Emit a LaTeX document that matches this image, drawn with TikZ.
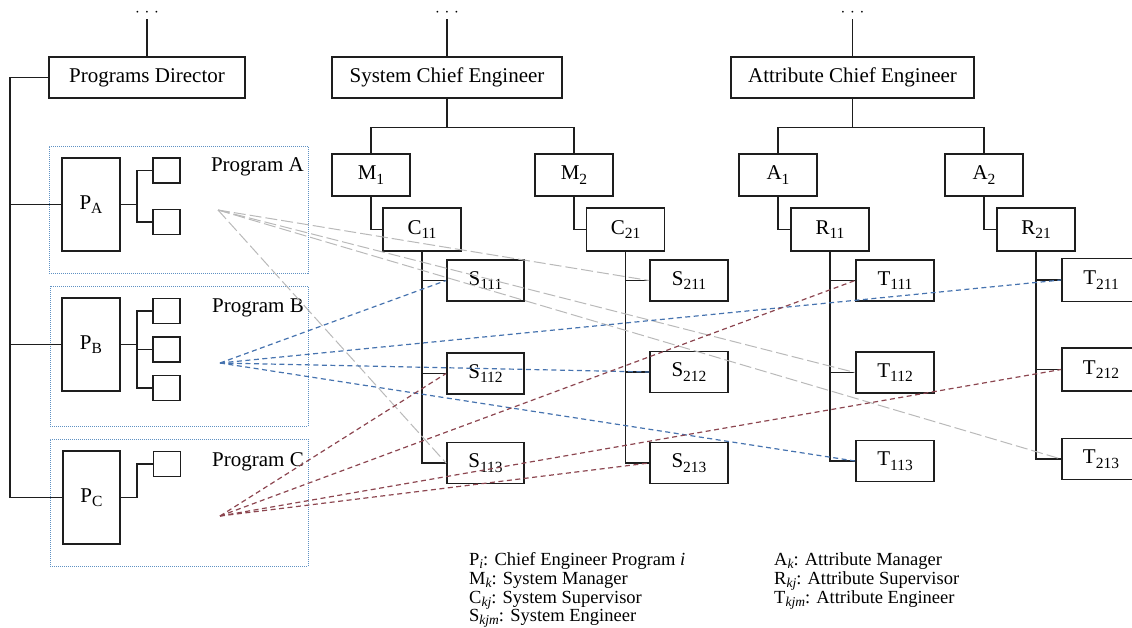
\documentclass[tikz,border=0pt]{standalone}
\usepackage{fontspec}
\setmainfont{Liberation Serif}
\newcommand{\orgfont}{\fontsize{21}{24}\selectfont}
\newcommand{\keyfont}{\fontsize{18.5}{19}\selectfont}
\newcommand{\dotsfont}{\fontsize{19}{19}\selectfont}
% lowered indices for box labels and for the key
\newcommand{\bsub}[1]{\raisebox{-4.5pt}{\fontsize{15.5}{16}\selectfont #1}}
\newcommand{\ksub}[1]{\raisebox{-3pt}{\fontsize{13.5}{14}\selectfont\itshape #1}}
\newcommand{\moreabove}{$\cdot\mkern1mu\cdot\mkern1mu\cdot$}
\definecolor{ink}{RGB}{30,30,30}
\definecolor{frameblue}{RGB}{95,145,195}
\definecolor{fangrey}{RGB}{185,185,185}
\definecolor{fanblue}{RGB}{70,115,175}
\definecolor{fanred}{RGB}{140,70,80}
\begin{document}
\begin{tikzpicture}[x=1pt,y=-1pt,
  wire/.style={draw=ink,line width=1.9pt},
  unit/.style={draw=ink,line width=1.9pt,inner sep=0pt,minimum width=78pt,minimum height=42pt,font=\orgfont},
  head/.style={unit,minimum height=41pt},
  prog/.style={draw=ink,line width=1.9pt,inner sep=0pt,minimum width=58pt,minimum height=93pt,font=\orgfont},
  cell/.style={draw=ink,line width=1.9pt,inner sep=0pt,minimum width=27pt,minimum height=25pt},
  frame/.style={draw=frameblue,line width=1pt,dash pattern=on 1pt off 1pt,inner sep=0pt},
  plabel/.style={anchor=east,inner sep=0pt,font=\orgfont},
  dotsmark/.style={anchor=base,inner sep=0pt,text height=5pt,text depth=0pt,font=\dotsfont},
  keytext/.style={anchor=base west,inner sep=0pt,font=\keyfont},
  linkA/.style={draw=fangrey,line width=1pt,dash pattern=on 12pt off 4pt},
  linkB/.style={draw=fanblue,line width=1.2pt,dash pattern=on 5pt off 3.5pt},
  linkC/.style={draw=fanred,line width=1.2pt,dash pattern=on 5pt off 3.5pt}]
\useasboundingbox (0,0) rectangle (1132,627);

% --- program containers -------------------------------------------------
\node[frame,minimum width=259pt,minimum height=127pt] (frA) at (178.5,209.5) {};
\node[frame,minimum width=258pt,minimum height=140pt] (frB) at (179,356) {};
\node[frame,minimum width=258pt,minimum height=127pt] (frC) at (179,502.5) {};
\node[plabel] (labA) at (304,167) {Program A};
\node[plabel] (labB) at (304,308) {Program B};
\node[plabel] (labC) at (304,462) {Program C};

% --- top-level heads ----------------------------------------------------
\node[head,minimum width=196pt] (PD) at (147,77.5) {Programs Director};
\node[head,minimum width=230pt] (SCE) at (447,77.5) {System Chief Engineer};
\node[head,minimum width=243pt] (ACE) at (852.5,77.5) {Attribute Chief Engineer};
\node[dotsmark] (dPD) at (147,16) {\moreabove};
\node[dotsmark] (dSCE) at (447,16) {\moreabove};
\node[dotsmark] (dACE) at (852.5,16) {\moreabove};
\draw[wire,shorten <=3pt] (dPD.south) -- (PD.north);
\draw[wire,shorten <=3pt] (dSCE.south) -- (SCE.north);
\draw[wire,shorten <=3pt] (dACE.south) -- (ACE.north);

% --- programs -----------------------------------------------------------
\node[prog] (PA) at (91,204.5) {P\bsub{A}};
\node[prog] (PB) at (91,344.5) {P\bsub{B}};
\node[prog,minimum width=57pt] (PC) at (91.5,497.5) {P\bsub{C}};
\node[cell] (PA1) at (166.5,170.5) {};
\node[cell] (PA2) at (166.5,222) {};
\node[cell] (PB1) at (166.5,311) {};
\node[cell] (PB2) at (166.5,349.5) {};
\node[cell] (PB3) at (166.5,388) {};
\node[cell] (PC1) at (167,464) {};

\coordinate (lbus) at (10,0);
\draw[wire] (PD.west) -| (lbus |- PC.west) -- (PC.west);
\draw[wire] (lbus |- PA.west) -- (PA.west);
\draw[wire] (lbus |- PB.west) -- (PB.west);

\draw[wire] (PA.east) -- ++(16,0) coordinate (pab);
\draw[wire] (PA1.west) -| (pab) |- (PA2.west);
\draw[wire] (PB.east) -- ++(16,0) coordinate (pbb);
\draw[wire] (PB1.west) -| (pbb) |- (PB3.west);
\draw[wire] (pbb |- PB2.west) -- (PB2.west);
\draw[wire] (PC.east) -- ++(16,0) coordinate (pcb);
\draw[wire] (pcb) |- (PC1.west);

% --- system branch ------------------------------------------------------
\node[unit] (M1) at (371,175) {M\bsub{1}};
\node[unit] (M2) at (574,175) {M\bsub{2}};
\node[unit,minimum height=43pt] (C11) at (422,229.5) {C\bsub{11}};
\node[unit,minimum height=43pt] (C21) at (625.5,229.5) {C\bsub{21}};
\node[unit,minimum width=77pt,minimum height=41pt] (S111) at (485.5,280.5) {S\bsub{111}};
\node[unit,minimum width=77pt,minimum height=41pt] (S112) at (485.5,373.5) {S\bsub{112}};
\node[unit,minimum width=77pt,minimum height=41pt] (S113) at (485.5,463) {S\bsub{113}};
\node[unit,minimum height=41pt] (S211) at (689,280.5) {S\bsub{211}};
\node[unit,minimum height=41pt] (S212) at (689,372) {S\bsub{212}};
\node[unit,minimum height=41pt] (S213) at (689,463) {S\bsub{213}};

\draw[wire] (SCE.south) -- ++(0,28.5) coordinate (sj);
\draw[wire] (M1.north) |- (sj) -| (M2.north);
\draw[wire] (M1.south) |- (C11.west);
\draw[wire] (M2.south) |- (C21.west);
\draw[wire] (C11.south) |- (S113.west);
\draw[wire] (C11.south |- S111.west) -- (S111.west);
\draw[wire] (C11.south |- S112.west) -- (S112.west);
\draw[wire] (C21.south) |- (S213.west);
\draw[wire] (C21.south |- S211.west) -- (S211.west);
\draw[wire] (C21.south |- S212.west) -- (S212.west);

% --- attribute branch ---------------------------------------------------
\node[unit] (A1) at (778,175) {A\bsub{1}};
\node[unit] (A2) at (984,175) {A\bsub{2}};
\node[unit,minimum height=43pt] (R11) at (830,229.5) {R\bsub{11}};
\node[unit,minimum height=43pt] (R21) at (1036,229.5) {R\bsub{21}};
\node[unit,minimum height=41pt] (T111) at (895,280.5) {T\bsub{111}};
\node[unit,minimum height=41pt] (T112) at (895,372.5) {T\bsub{112}};
\node[unit,minimum height=41pt] (T113) at (895,461) {T\bsub{113}};
\node[unit,minimum height=43pt] (T211) at (1101,280) {T\bsub{211}};
\node[unit,minimum height=43pt] (T212) at (1101,369.5) {T\bsub{212}};
\node[unit,minimum height=41pt] (T213) at (1101,459) {T\bsub{213}};

\draw[wire] (ACE.south) -- ++(0,28.5) coordinate (aj);
\draw[wire] (A1.north) |- (aj) -| (A2.north);
\draw[wire] (A1.south) |- (R11.west);
\draw[wire] (A2.south) |- (R21.west);
\draw[wire] (R11.south) |- (T113.west);
\draw[wire] (R11.south |- T111.west) -- (T111.west);
\draw[wire] (R11.south |- T112.west) -- (T112.west);
\draw[wire] (R21.south) |- (T213.west);
\draw[wire] (R21.south |- T211.west) -- (T211.west);
\draw[wire] (R21.south |- T212.west) -- (T212.west);

% --- assignments of engineers to programs -------------------------------
\coordinate (fa) at (218,210);
\coordinate (fb) at (220,363);
\coordinate (fc) at (220,516);
\draw[linkA] (fa) -- (S113.west);
\draw[linkA] (fa) -- (S211.west);
\draw[linkA] (fa) -- (T112.west);
\draw[linkA] (fa) -- (T213.west);
\draw[linkB] (fb) -- (S111.west);
\draw[linkB] (fb) -- (S212.west);
\draw[linkB] (fb) -- (T113.west);
\draw[linkB] (fb) -- (T211.west);
\draw[linkC] (fc) -- (S112.west);
\draw[linkC] (fc) -- (S213.west);
\draw[linkC] (fc) -- (T111.west);
\draw[linkC] (fc) -- (T212.west);

% --- key ----------------------------------------------------------------
\node[keytext] (k1) at (469,565) {P\ksub{i}: Chief Engineer Program \textit{i}};
\node[keytext] (k2) at (469,584) {M\ksub{k}: System Manager};
\node[keytext] (k3) at (469,603) {C\ksub{kj}: System Supervisor};
\node[keytext] (k4) at (469,621) {S\ksub{kjm}: System Engineer};
\node[keytext] (k5) at (774,565) {A\ksub{k}: Attribute Manager};
\node[keytext] (k6) at (774,584) {R\ksub{kj}: Attribute Supervisor};
\node[keytext] (k7) at (774,603) {T\ksub{kjm}: Attribute Engineer};
\end{tikzpicture}
\end{document}
